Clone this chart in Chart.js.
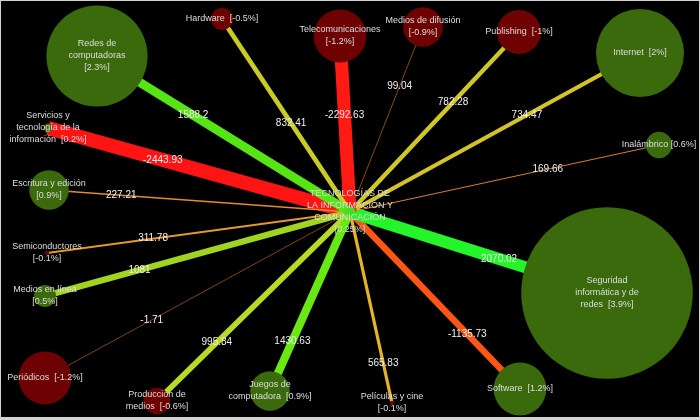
<!DOCTYPE html>
<html lang="es">
<head>
<meta charset="UTF-8">
<title>Tecnologías de la información y comunicación</title>
<script src="https://cdn.jsdelivr.net/npm/chart.js"></script>
<style>
    body { margin: 0; background: #d2d2d2; }
    #wrap { position: absolute; left: 1px; top: 1px; width: 698px; height: 416px; background: #000; }
</style>
</head>
<body>
<div id="wrap"><canvas id="chart" width="698" height="416"></canvas></div>
<script>
// nodo central
const hubName = 'TECNOLOGÍAS DE\nLA INFORMACIÓN Y\nCOMUNICACIÓN\n';
const hubPct = 0.25;
const hubX = 350, hubY = 212;

// nodos (el texto incluye el salto de línea antes del porcentaje)
const names = [
    'Redes de\ncomputadoras\n', 'Hardware  ', 'Telecomunicaciones\n', 'Medios de difusión\n',
    'Publishing  ', 'Internet  ', 'Inalámbrico ', 'Seguridad\ninformática y de\nredes  ',
    'Software  ', 'Películas y cine\n', 'Juegos de\ncomputadora  ', 'Producción de\nmedios  ',
    'Periódicos  ', 'Medios en línea\n', 'Semiconductores\n', 'Escritura y edición\n',
    'Servicios y\ntecnología de la\ninformación  '
];
const pcts  = [2.3, -0.5, -1.2, -0.9, -1, 2, 0.6, 3.9, 1.2, -0.1, 0.9, -0.6, -1.2, 0.5, -0.1, 0.9, 0.2];
const xs    = [97, 222, 340, 423, 519, 640, 659, 607, 520, 392, 270, 157, 45, 45, 47, 49, 48];
const ys    = [56, 19, 36, 27, 32, 53, 145, 293, 389, 403, 391, 401, 378, 296, 253, 190, 128];
const flows = [1588.2, 832.41, -2292.63, 99.04, 782.28, 734.47, 169.66, 2070.02,
               -1135.73, 565.83, 1430.63, 995.84, -1.71, 1081, 311.78, 227.21, -2443.93];
// dónde va la etiqueta de cada enlace (fracción desde el nodo hacia el centro)
const labelAt = [0.38, 0.54, 0.45, 0.32, 0.39, 0.39, 0.36, 0.42, 0.31, 0.21, 0.28, 0.31, 0.35, 0.31, 0.35, 0.24, 0.38];

const colorStops = [
    [-2400, [255, 20, 20]], [-1100, [255, 88, 22]], [0, [205, 115, 35]], [250, [228, 145, 40]],
    [565, [228, 180, 40]], [800, [205, 200, 40]], [1000, [185, 218, 35]], [1100, [155, 210, 30]],
    [1430, [105, 232, 20]], [1600, [85, 228, 20]], [2070, [35, 245, 40]]
];

function flowColor(v) {
    if (v <= colorStops[0][0]) return 'rgb(' + colorStops[0][1].join(',') + ')';
    for (let i = 1; i < colorStops.length; i++) {
        const [v1, c1] = colorStops[i];
        const [v0, c0] = colorStops[i - 1];
        if (v <= v1) {
            const t = (v - v0) / (v1 - v0);
            return 'rgb(' + c0.map((c, k) => Math.round(c + (c1[k] - c) * t)).join(',') + ')';
        }
    }
    return 'rgb(' + colorStops[colorStops.length - 1][1].join(',') + ')';
}

const edgeSets = names.map((n, i) => ({
    type: 'line',
    data: [{ x: xs[i], y: ys[i] }, { x: hubX, y: hubY }],
    borderColor: flowColor(flows[i]),
    borderWidth: Math.max(0.6, Math.abs(flows[i]) / 175),
    borderCapStyle: 'butt',
    pointRadius: 0,
    fill: false,
    clip: false,
    order: 2
}));

const nodeData = names.map((n, i) => ({ x: xs[i], y: ys[i], r: 22 * Math.abs(pcts[i]), pct: pcts[i] }));
nodeData.push({ x: hubX, y: hubY, r: 22 * hubPct, pct: hubPct, hub: true });

const labelPlugin = {
    id: 'labels',
    afterDatasetsDraw(chart) {
        const ctx = chart.ctx;
        const sx = chart.scales.x, sy = chart.scales.y;
        const hx = sx.getPixelForValue(hubX), hy = sy.getPixelForValue(hubY);
        ctx.save();
        ctx.textAlign = 'center';
        ctx.textBaseline = 'middle';

        // etiquetas de los enlaces
        ctx.font = '10px "Liberation Sans", Arial, sans-serif';
        ctx.fillStyle = '#f0f0f0';
        flows.forEach((v, i) => {
            const px = sx.getPixelForValue(xs[i]), py = sy.getPixelForValue(ys[i]);
            const t = labelAt[i];
            ctx.fillText(String(v), px + (hx - px) * t, py + (hy - py) * t);
        });

        // etiquetas de los nodos
        ctx.font = '9px "Liberation Sans", Arial, sans-serif';
        ctx.fillStyle = '#dedede';
        const drawNode = (text, pct, x, y) => {
            const lines = (text + '[' + pct + '%]').split('\n');
            const lh = 12;
            const top = y - (lines.length - 1) * lh / 2;
            lines.forEach((l, k) => ctx.fillText(l, x, top + k * lh));
        };
        names.forEach((n, i) => drawNode(n, pcts[i], sx.getPixelForValue(xs[i]), sy.getPixelForValue(ys[i])));
        drawNode(hubName, hubPct, hx, hy);
        ctx.restore();
    }
};

new Chart(document.getElementById('chart'), {
    data: {
        datasets: [
            ...edgeSets,
            {
                type: 'bubble',
                data: nodeData,
                backgroundColor: c => c.raw && c.raw.hub ? '#44dd22' : (c.raw && c.raw.pct < 0 ? '#6e0202' : '#3a6a0b'),
                borderWidth: 0,
                hoverRadius: 0,
                clip: false,
                order: 1
            }
        ]
    },
    options: {
        responsive: false,
        animation: false,
        events: [],
        layout: { padding: 0, autoPadding: false },
        plugins: { legend: { display: false }, tooltip: { enabled: false } },
        scales: {
            x: { type: 'linear', min: 1, max: 699, display: false },
            y: { type: 'linear', min: 1, max: 417, reverse: true, display: false }
        }
    },
    plugins: [labelPlugin]
});
</script>
</body>
</html>
